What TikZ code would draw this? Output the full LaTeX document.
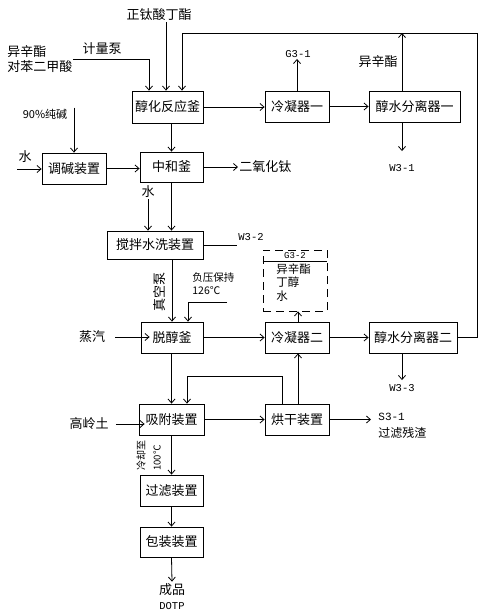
\documentclass[tikz,border=0pt]{standalone}
\usepackage{fontspec}
\setmainfont{Noto Sans CJK SC}
\newfontfamily\codefont{Liberation Mono}
\usetikzlibrary{arrows.meta}

\tikzset{
  box/.style={draw, inner sep=0pt, minimum height=31pt, font=\fontsize{13}{13}\selectfont},
  lbl/.style={inner sep=1pt, font=\fontsize{13}{15}\selectfont},
  small/.style={inner sep=1pt, font=\fontsize{10.5}{13}\selectfont},
  code/.style={inner sep=1pt, font=\codefont\fontsize{10.5}{12}\selectfont},
}

\begin{document}
\begin{tikzpicture}[x=1pt, y=-1pt, line width=0.8pt,
    >={Straight Barb[length=4pt, width=7pt]}]

        \useasboundingbox (0,0) rectangle (484,616);

        % ==========================================
        % 1. Esterificazione
        % ==========================================
        \node[box, minimum width=71pt, minimum height=32pt] (r1) at (167.5,107) {醇化反应釜};
        \node[box, minimum width=64pt] (c1) at (297,106.5) {冷凝器一};
        \node[box, minimum width=91pt] (s1) at (414.5,106.5) {醇水分离器一};

        \node[lbl] (tbt) at (159,15) {正钛酸丁酯};
        \node[lbl, inner sep=0pt, anchor=west, align=left] (feedA) at (7,59) {异辛酯\\对苯二甲酸};
        \node[lbl] (pump) at (102,49) {计量泵};
        \node[code] (g31) at (298,54) {G3-1};
        \node[lbl] (ester1) at (378,62) {异辛酯};
        \node[code] (w31) at (402,168) {W3-1};
        \coordinate (loopTR) at (477,33);

        \draw[->] (feedA.east) -| ([xshift=-18.5pt]r1.north);
        \draw[->] ([xshift=7pt]tbt.south) -- ([xshift=-1.5pt]r1.north);
        \draw[->] (r1.east) -- (r1.east -| c1.west);
        \draw[->] (c1.east) -- (s1.west);
        \draw[->] (c1.north) -- (c1.north |- g31.south);
        \draw[->] ([xshift=-12.5pt]s1.north) -- ([xshift=-12.5pt]s1.north |- loopTR);
        \draw[->] ([xshift=-12.5pt]s1.south) -- ([xshift=-12.5pt, yshift=12pt]s1.south |- w31.north);

        % ==========================================
        % 2. Neutralizzazione e lavaggio
        % ==========================================
        \node[box, minimum width=64pt] (tj) at (74,168.5) {调碱装置};
        \node[box, minimum width=63pt, minimum height=30pt] (zh) at (171.5,167) {中和釜};
        \node[box, minimum width=96pt, minimum height=28pt] (jb) at (155,245) {搅拌水洗装置};

        \node[small, font=\fontsize{11}{13}\selectfont] (soda) at (45,114) {90\%纯碱};
        \node[lbl] (w1) at (25,157) {水};
        \coordinate (w1in) at (17,169);
        \node[lbl, anchor=west] (tio2) at (238,167) {二氧化钛};
        \node[lbl] (w2) at (148,192) {水};
        \node[code, anchor=west] (w32) at (237,237) {W3-2};

        \draw[->] (tj.north |- soda.north) -- (tj.north);
        \draw[->] (w1in) -- (w1in -| tj.west);
        \draw[->] (tj.east) -- (tj.east -| zh.west);
        \draw[->] (r1.south -| zh.north) -- (zh.north);
        \draw[->] (zh.east) -- (tio2.west);
        \draw[->] (w2.south) -- (w2.south |- jb.north);
        \draw[->] (zh.south) -- (zh.south |- jb.north);
        \draw (jb.east) -- (jb.east -| w32.west);

        % ==========================================
        % 3. Dealcolazione
        % ==========================================
        \node[box, minimum width=62pt] (tc) at (172,337.5) {脱醇釜};
        \node[box, minimum width=64pt] (c2) at (297,337.5) {冷凝器二};
        \node[box, minimum width=88pt] (s2) at (413,337.5) {醇水分离器二};

        \node[lbl, rotate=90] (vpump) at (160,292) {真空泵};
        \node[small, anchor=west, align=left] (vac) at (191,284) {负压保持\\126℃};
        \coordinate (vacin) at (227,302);
        \node[lbl] (steam) at (92,337) {蒸汽};
        \node[code] (w33) at (402,388) {W3-3};

        % G3-2 box
        \node[draw, dash pattern=on 8pt off 5pt, inner sep=0pt, minimum width=64pt, minimum height=61pt] (g32) at (295,280.5) {};
        \node[code, font=\codefont\fontsize{9}{10}\selectfont] (g32h) at (295,255.5) {G3-2};
        \draw (g32.west |- 0,261) -- (g32.east |- 0,261);
        \node[small, font=\fontsize{11.5}{13.5}\selectfont, anchor=north west, align=left, inner sep=0pt] (g32t) at (276,263) {异辛酯\\丁醇\\水};

        \draw[->] (jb.south -| tc.north) -- (tc.north);
        \draw[->] (vacin) -| ([xshift=16pt]tc.north);
        \draw[->] ([xshift=9pt]steam.east) -- ([xshift=9pt]steam.east -| tc.west);
        \draw[->] (tc.east) -- (c2.west);
        \draw[->] (c2.east) -- (s2.west);
        \draw[->] ([xshift=1pt]c2.north) -- ([xshift=1pt]c2.north |- g32.south);
        \draw[->] ([xshift=-11pt]s2.south) -- ([xshift=-11pt, yshift=3pt]s2.south |- w33.north);
        \draw[->] (s2.east) -| (loopTR) -| ([xshift=14.5pt]r1.north);

        % ==========================================
        % 4. Adsorbimento, filtrazione, confezionamento
        % ==========================================
        \node[box, minimum width=65pt] (xf) at (171.5,419.5) {吸附装置};
        \node[box, minimum width=64pt] (hg) at (297,419.5) {烘干装置};
        \node[box, minimum width=63pt] (gl) at (171.5,490.5) {过滤装置};
        \node[box, minimum width=63pt, minimum height=30pt] (bz) at (171.5,542) {包装装置};

        \node[lbl] (kaolin) at (89,424) {高岭土};
        \node[inner sep=0pt, anchor=west, align=left, font=\fontsize{12}{17}\selectfont] (s31) at (378,425.5) {{\codefont\fontsize{11}{12}\selectfont S3-1}\\过滤残渣};
        \node[small, rotate=90, font=\fontsize{10}{12}\selectfont] (cool) at (141,455) {冷却至};
        \node[small, rotate=90, font=\fontsize{9.5}{11}\selectfont] (temp) at (157,458) {100℃};
        \node[lbl, align=center, inner sep=0pt] (prod) at (172,597) {成品\\{\codefont\fontsize{10.5}{12}\selectfont DOTP}};

        \draw[->] (tc.south -| xf.north) -- (xf.north);
        \draw[->] ([xshift=-15pt]hg.north) -- ++(0,-27) -| ([xshift=15.5pt]xf.north);
        \draw[->] ([xshift=1pt]hg.north) -- ([xshift=1pt]hg.north |- c2.south);
        \draw[->] ([xshift=6pt]kaolin.east) -- ([xshift=6pt]kaolin.east -| xf.west);
        \draw[->] (xf.east) -- (xf.east -| hg.west);
        \draw[->] (hg.east) -- ([xshift=-7pt]hg.east -| s31.west);
        \draw[->] (xf.south) -- (gl.north);
        \draw[->] (gl.south) -- (bz.north);
        \draw[->] (bz.south) -- ([yshift=2pt]prod.north);

    \end{tikzpicture}
\end{document}
